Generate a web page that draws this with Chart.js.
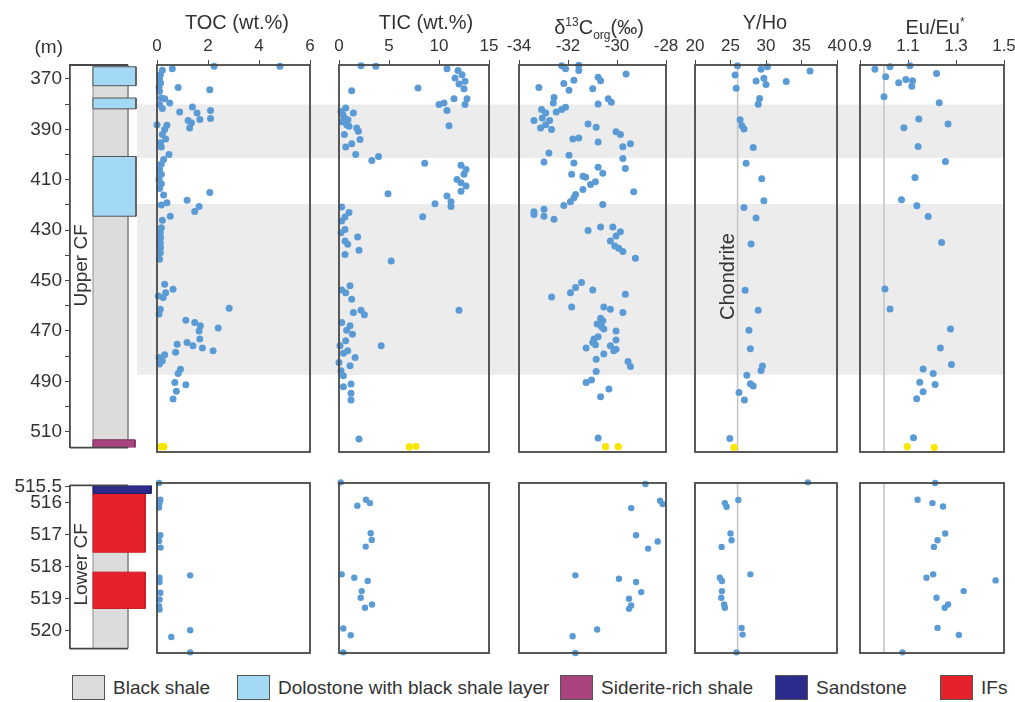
<!DOCTYPE html>
<html>
<head>
<meta charset="utf-8">
<script src="https://cdn.jsdelivr.net/npm/chart.js@4.4.0/dist/chart.umd.min.js"></script>
<style>
  body { margin: 0; background: #fff; }
  #fig { position: relative; width: 1015px; height: 702px; overflow: hidden; font-family: "Liberation Sans", Arial, sans-serif; color: #333; }
  #fig canvas { position: absolute; }
  .title { position: absolute; top: 10px; font-size: 20px; line-height: 24px; white-space: nowrap; transform: translateX(-50%); }
  .title sup, .title sub { font-size: 12px; }
  .unit { position: absolute; right: 952px; top: 36px; font-size: 19px; line-height: 22px; }
  .leg { position: absolute; top: 675px; height: 25px; display: flex; align-items: center; font-size: 19px; white-space: nowrap; }
  .leg span { display: inline-block; width: 31px; height: 23px; border: 1.5px solid #555; margin-right: 8px; }
</style>
</head>
<body>
<div id="fig"></div>
<script>
// depth axes
const upperRange = [364.5, 516.3];
const lowerRange = [515.47, 520.55];
const upperDepthTicks = [370, 380, 390, 400, 410, 420, 430, 440, 450, 460, 470, 480, 490, 500, 510];
const upperDepthLabels = ['370', '', '390', '', '410', '', '430', '', '450', '', '470', '', '490', '', '510'];
const lowerDepthTicks = [515.5, 516, 517, 518, 519, 520];
const lowerDepthLabels = ['515.5', '516', '517', '518', '519', '520'];

// grey shaded intervals
const shadeTop = [380, 419];
const shadeBase = [401, 486];

// lithology column [top, base, rock]
const lithUpper = [[364.5, 516.3, 'shale'], [365.2, 372.7, 'dolo'], [377.6, 381.9, 'dolo'], [400.8, 424.5, 'dolo'], [513.2, 516.3, 'siderite']];
const lithLower = [[515.47, 520.55, 'shale'], [515.47, 515.72, 'sand'], [515.72, 517.55, 'IF'], [518.17, 519.3, 'IF']];
const lithNames = ['Black shale', 'Dolostone with black shale layer', 'Siderite-rich shale', 'Sandstone', 'IFs'];
const lithKeys = ['shale', 'dolo', 'siderite', 'sand', 'IF'];

// x axis ticks
const tocTicks = [0, 2, 4, 6];
const ticTicks = [0, 5, 10, 15];
const d13cTicks = [-34, -32, -30, -28];
const yhoTicks = [20, 25, 30, 35, 40];
const euTicks = [0.9, 1.1, 1.3, 1.5];
const euTickLabels = ['0.9', '1.1', '1.3', '1.5'];

// chondrite reference values
const chondriteYHo = 26;
const chondriteEu = 1.0;

// samples as [value, depth (m)]
const tocUpper = [[2.24,365],[4.82,365],[0.6,366],[0.21,366.6],[0.13,368.3],[0.1,369.9],[0.14,371.6],[0.08,373.3],[0.83,373.3],[2.07,374.2],[0.1,374.8],[0.17,377.4],[0.3,377.7],[0.5,379.4],[0.1,380],[0.21,381.6],[1.39,381],[0.89,382.9],[1.57,383.3],[2.1,382.3],[2.1,385.5],[1.68,385.9],[1.22,386.3],[1.35,387.2],[1.28,389.2],[0,387.9],[0.39,388.1],[0.3,389.8],[0.21,391.8],[0.34,393.5],[0.14,395],[0.17,396.7],[0.47,399.6],[0.26,401.6],[0.17,403.3],[0.1,405.5],[0.17,407.4],[0.08,409.4],[0.17,411.1],[0.1,412.9],[0.26,415.5],[2.07,414.5],[1.18,417.6],[0.17,419.4],[0.39,418.5],[1.65,420],[1.48,422],[0.52,423.8],[0.21,425.4],[0.17,428.3],[0.13,430.3],[0.14,432.2],[0.13,434.2],[0.14,436.1],[0.13,438.1],[0.1,440.7],[0.3,450.5],[0.63,452.5],[0.34,453.8],[0.05,455.1],[0.24,455.7],[2.83,459.9],[0.13,460.3],[0.08,462.2],[1.13,464.6],[1.48,465.5],[1.7,466.8],[1.65,468.8],[2.4,467.7],[1.68,472],[1.18,473.3],[1.41,474.6],[1.78,475.5],[2.2,476.6],[0.79,474],[0.73,477.2],[0.3,478.2],[0.08,479.2],[0.21,480.5],[0.1,481.8],[0.92,483.8],[0.83,485.5],[0.7,489],[1.13,489.9],[0.76,492.5],[0.63,495.5]];
const tocLower = [[0.08,515.47],[0.13,515.97],[0.1,516.07],[0.08,516.2],[0.13,517.03],[0.08,517.2],[0.14,517.4],[1.3,518.23],[0.1,518.3],[0.1,518.43],[0.13,518.75],[0.1,518.95],[0.08,519.15],[0.1,519.25],[1.3,519.87],[0.56,520.07],[1.3,520.53]];
const tocYellow = [[0.15,514.2],[0.27,514.2]];

const ticUpper = [[2.2,364.8],[3.68,365],[10.8,366],[11.9,366.7],[12.3,368.3],[11.6,369.6],[12.6,370.9],[12,372],[12.5,373.8],[1.27,374.6],[7.9,373.5],[12.8,377.7],[11.5,377.7],[10,380],[10.5,379.4],[12.6,380],[10.8,382.3],[11,388.3],[0.2,382.7],[0.67,381.4],[1.44,383.3],[0.54,385.3],[0.4,384],[0.9,386],[0.3,386.8],[1.0,388.5],[0.77,387.9],[1.77,389.2],[1.94,390.5],[0.54,391.8],[2.1,393.7],[1.27,395.4],[0.67,396.7],[1.67,399.6],[3.28,402],[3.95,400.4],[8.57,403],[12.2,403.8],[12.7,405.5],[12.5,407.4],[11.8,409.4],[12.2,410.7],[12.7,412],[12.2,414],[4.9,415],[10.8,415.9],[11.2,418.1],[11.2,420],[9.6,418.9],[8.37,424],[0.27,420.2],[1,422.4],[0.6,424.1],[0.27,425.7],[0.6,429],[0.2,430.3],[1.87,432],[0.6,433.5],[0.87,434.8],[2,437.2],[0.6,438.8],[5.22,441.4],[1.1,451.1],[0.27,452.8],[0.67,453.8],[1.27,456.4],[1.44,461.6],[2.2,460.7],[2.54,462.5],[12,460.7],[0.27,465.5],[1.1,466.8],[0.77,468.5],[1.34,470.1],[0.67,472.7],[4.22,474.6],[0.1,474.6],[0.87,476.6],[0.44,477.6],[1.61,479.2],[0,481.2],[1.1,482.5],[0.2,484.4],[0.44,486.4],[1.2,489.6],[0.44,490.7],[1.2,493.3],[1.2,495.9],[2,511.2]];
const ticLower = [[0.17,515.45],[1.83,516.15],[2.7,515.97],[3.1,516.07],[3.17,516.97],[3.27,517.17],[2.67,517.37],[0.27,518.2],[1.53,518.3],[2.87,518.4],[2.27,518.7],[2.17,518.9],[3.3,519.1],[2.6,519.2],[0.43,519.82],[1.17,520.02],[0.43,520.53]];
const ticYellow = [[7.03,514.3],[7.7,514.1]];

const d13cUpper = [[-32.26,364.8],[-32.1,366],[-31.56,364.6],[-31.56,366.7],[-29.63,368],[-30.77,369.3],[-30.67,370.7],[-33.19,373.3],[-32.17,371.8],[-31.76,370.5],[-31.96,374.4],[-30.99,373.8],[-32.57,377.2],[-32.6,379.4],[-32.1,381.1],[-32.26,382],[-32.48,382.9],[-33.08,382],[-32.91,383.3],[-33.39,386.3],[-33.05,385.3],[-32.75,386.3],[-32.91,387.9],[-33.12,389.2],[-32.67,389.8],[-30.77,379.8],[-30.36,377.7],[-30.23,379.1],[-31.18,387.6],[-30.85,388.9],[-30.04,390.7],[-29.86,391.8],[-31.8,393.5],[-31.56,393.1],[-30.77,394.7],[-29.45,395.4],[-29.76,396.6],[-32.78,399],[-31.96,399.9],[-29.76,401.2],[-32.98,402.5],[-31.76,402.9],[-29.66,405.1],[-30.77,404.6],[-30.58,407],[-31.85,407.4],[-31.39,408.1],[-31.28,408.5],[-30.88,410.3],[-31.08,411.4],[-31.39,413.3],[-29.32,414.2],[-31.69,415.3],[-31.76,416.6],[-31.9,418.1],[-32.17,419.6],[-30.58,419.2],[-32.98,421.1],[-33.39,422.1],[-33.39,423.1],[-32.98,423.8],[-32.57,425],[-31.18,429.4],[-30.67,428],[-30.17,428],[-29.86,429.9],[-30.04,431.6],[-30.27,433.5],[-30.09,435.5],[-29.93,436.4],[-29.76,437.7],[-29.25,440.3],[-31.45,449.8],[-31.69,451.8],[-31.9,453.8],[-32.67,455.5],[-30.99,452.8],[-29.66,454.4],[-31.85,459.4],[-30.54,459.4],[-30.27,460.3],[-29.76,461.6],[-30.67,463.8],[-30.58,464.8],[-30.81,466.1],[-30.63,467.2],[-30.54,468.1],[-30.04,468.8],[-30.77,471.1],[-30.94,472],[-30.99,473.3],[-30.88,474.2],[-30.04,472.4],[-30.27,474.6],[-31.26,475.5],[-30.13,476.6],[-30.04,476],[-30.54,477.9],[-30.85,479.9],[-29.55,480.8],[-29.45,482.8],[-30.85,484.7],[-31.04,488.1],[-31.26,489],[-30.33,491.6],[-30.67,494.6],[-30.77,510.8]];
const d13cLower = [[-28.84,515.5],[-29.42,516.22],[-28.24,516],[-28.14,516.1],[-29.22,517.03],[-28.34,517.22],[-28.73,517.43],[-31.7,518.23],[-29.92,518.33],[-29.22,518.43],[-29.01,518.73],[-29.51,518.93],[-29.42,519.13],[-29.51,519.23],[-30.81,519.85],[-31.81,520.05],[-31.7,520.55]];
const d13cYellow = [[-30.47,514.2],[-29.95,514.2]];

const yhoUpper = [[25.98,364.8],[25.65,368.4],[25.8,373.6],[29.3,366.2],[30.2,365.2],[29.7,369.7],[28.6,370.8],[30,372.1],[32.85,371],[36.2,366.9],[29.1,377.6],[28.9,379.9],[26.35,386],[26.6,388.3],[26.9,389.6],[28.2,396.9],[27.2,403],[29.4,409.1],[29.7,417.7],[26.9,420.4],[28.6,424.5],[27.9,434.7],[27.06,452.9],[28.9,460.7],[27.6,468.5],[27.8,475.8],[29.5,482.6],[29.3,484.3],[27.3,486.2],[27.8,489.5],[28.2,490.4],[26.2,493],[26.96,495.9],[24.9,511]];
const yhoLower = [[35.9,515.45],[26.1,515.98],[24.2,516.07],[24.45,516.18],[25,516.98],[25.15,517.18],[23.75,517.38],[27.8,518.2],[23.5,518.3],[23.8,518.4],[23.8,518.7],[23.7,518.9],[24.1,519.1],[24.2,519.2],[26.56,519.8],[26.7,520],[25.85,520.53]];
const yhoYellow = [[25.5,514.5]];

const euUpper = [[0.962,366.2],[1.025,365.2],[1.108,364.8],[1.007,369.1],[1.061,371.5],[1.091,370.2],[1.119,370.7],[1.116,372.8],[1.219,367.8],[1.0,377],[1.23,379.3],[1.145,385.7],[1.267,387.6],[1.083,389.1],[1.142,396.5],[1.256,402.4],[1.129,408.6],[1.073,417.4],[1.137,419.7],[1.184,423.9],[1.24,434.1],[1.004,452.4],[1.025,460.2],[1.277,468.1],[1.235,475.5],[1.281,482],[1.163,483.7],[1.205,485.5],[1.149,488.9],[1.213,489.8],[1.163,492.7],[1.136,495.4],[1.123,510.7]];
const euLower = [[1.213,515.47],[1.14,515.97],[1.202,516.07],[1.246,516.17],[1.255,516.98],[1.223,517.18],[1.208,517.38],[1.205,518.2],[1.177,518.3],[1.465,518.38],[1.332,518.7],[1.219,518.9],[1.267,519.1],[1.253,519.2],[1.223,519.8],[1.312,520.01],[1.077,520.53]];
const euYellow = [[1.097,514.2],[1.209,514.5]];

// ---- styles / layout ----
const FONT = '"Liberation Sans", Arial, sans-serif';
const BLUE = '#5b9bd5';
const YELLOW = '#f7e600';
const FRAME = '#484848';
const lithFill = {shale: '#dcdcdc', dolo: '#a3d9f5', siderite: '#a9447f', sand: '#2b2b8c', IF: '#e5222b'};
const lithEdge = {shale: '#8e8e8e', dolo: '#555555', siderite: '#7a2d5a', sand: '#1e1e66', IF: '#c81a22'};
const lithWidth = {shale: 1, dolo: 1.23, siderite: 1.2, sand: 1.66, IF: 1.49};
const UP = {top: 65, bottom: 452, min: upperRange[0], max: upperRange[1]};
const LO = {top: 483, bottom: 653, min: lowerRange[0], max: lowerRange[1]};

const fig = document.getElementById('fig');
function addCanvas(left, top, w, h) {
  const c = document.createElement('canvas');
  c.width = w; c.height = h;
  c.style.left = left + 'px'; c.style.top = top + 'px';
  c.style.width = w + 'px'; c.style.height = h + 'px';
  fig.appendChild(c);
  return c;
}
const pts = arr => arr.map(([x, y]) => ({x, y}));
const rect = (x0, x1, y0, y1) => [{x: x0, y: y0}, {x: x1, y: y0}, {x: x1, y: y1}, {x: x0, y: y1}, {x: x0, y: y0}];

const framePlugin = {
  id: 'frame',
  afterDatasetsDraw(chart) {
    const {ctx, chartArea: a} = chart;
    ctx.save();
    ctx.strokeStyle = FRAME; ctx.lineWidth = 1.8;
    ctx.strokeRect(a.left, a.top, a.right - a.left, a.bottom - a.top);
    ctx.restore();
  }
};
const rotatedText = (text, xFn, depth, size) => ({
  id: 'rot' + text.replace(/\W/g, ''),
  afterDatasetsDraw(chart) {
    const {ctx} = chart;
    ctx.save();
    ctx.translate(xFn(chart), chart.scales.y.getPixelForValue(depth));
    ctx.rotate(-Math.PI / 2);
    ctx.font = size + 'px ' + FONT;
    ctx.fillStyle = '#333'; ctx.textAlign = 'center'; ctx.textBaseline = 'middle';
    ctx.fillText(text, 0, 0);
    ctx.restore();
  }
});

// shaded bands behind the panels
(function () {
  const c = addCanvas(137, 0, 868, UP.bottom + 10);
  new Chart(c, {
    type: 'line',
    data: {datasets: shadeTop.map((t, i) => ({data: rect(0, 1, t, shadeBase[i]), fill: 'shape', backgroundColor: '#ececec', borderWidth: 0, pointRadius: 0}))},
    options: {
      responsive: false, animation: false, events: [],
      layout: {autoPadding: false, padding: {left: 0, right: 0, top: UP.top, bottom: 10}},
      plugins: {legend: {display: false}, tooltip: {enabled: false}},
      scales: {x: {type: 'linear', min: 0, max: 1, display: false}, y: {type: 'linear', reverse: true, min: UP.min, max: UP.max, display: false}}
    }
  });
})();

// lithology column with depth axis
function lithoChart(part, units, ticks, labels, cfText, cfDepth) {
  const top = part === UP ? 0 : part.top - 12;
  const c = addCanvas(0, top, 165, part.bottom + 10 - top);
  const ds = units.map(([t, b, k]) => ({
    data: rect(0, lithWidth[k], t, b), fill: 'shape', backgroundColor: lithFill[k],
    borderColor: lithEdge[k], borderWidth: 1, pointRadius: 0, order: k === 'shale' ? 2 : 1
  }));
  const edgeLines = {
    id: 'edges',
    afterDatasetsDraw(chart) {
      const {ctx, chartArea: a, scales} = chart;
      const xr = scales.x.getPixelForValue(lithWidth.shale);
      ctx.save(); ctx.strokeStyle = FRAME; ctx.lineWidth = 1.8;
      ctx.beginPath();
      ctx.moveTo(a.left, a.top); ctx.lineTo(xr, a.top);
      ctx.moveTo(a.left, a.bottom); ctx.lineTo(xr, a.bottom);
      ctx.stroke(); ctx.restore();
    }
  };
  new Chart(c, {
    type: 'line',
    data: {datasets: ds},
    options: {
      responsive: false, animation: false, events: [],
      layout: {autoPadding: false, padding: {left: 0, right: 13, top: part === UP ? part.top : 12, bottom: 10}},
      plugins: {legend: {display: false}, tooltip: {enabled: false}},
      scales: {
        x: {type: 'linear', min: -0.657, max: 1.686, display: false},
        y: {
          type: 'linear', reverse: true, min: part.min, max: part.max, position: 'left',
          afterFit: s => { s.width = 70; },
          afterBuildTicks: s => { s.ticks = ticks.map(v => ({value: v})); },
          ticks: {callback: (v, i) => labels[i], font: {size: 19, family: FONT}, color: '#333', padding: 3, autoSkip: false},
          grid: {drawOnChartArea: false, tickLength: 5, color: FRAME},
          border: {display: true, color: FRAME, width: 1.8}
        }
      }
    },
    plugins: [edgeLines, rotatedText(cfText, ch => ch.chartArea.left + 12, cfDepth, 19)]
  });
}
lithoChart(UP, lithUpper, upperDepthTicks, upperDepthLabels, 'Upper CF', 444);
lithoChart(LO, lithLower, lowerDepthTicks, lowerDepthLabels, 'Lower CF', 517.93);

// geochemistry panels
const panels = [
  {left: 157, right: 310, min: 0, max: 6, ticks: tocTicks, upper: tocUpper, lower: tocLower, yellow: tocYellow, title: 'TOC (wt.%)', tx: 237},
  {left: 339, right: 489, min: 0, max: 15, ticks: ticTicks, upper: ticUpper, lower: ticLower, yellow: ticYellow, title: 'TIC (wt.%)', tx: 426},
  {left: 519, right: 666, min: -34, max: -28, ticks: d13cTicks, upper: d13cUpper, lower: d13cLower, yellow: d13cYellow, title: 'δ<sup>13</sup>C<sub>org</sub>(‰)', tx: 599},
  {left: 695, right: 837, min: 20, max: 40, ticks: yhoTicks, upper: yhoUpper, lower: yhoLower, yellow: yhoYellow, title: 'Y/Ho', tx: 765, ref: chondriteYHo, note: 'Chondrite'},
  {left: 860, right: 1004, min: 0.9, max: 1.5, ticks: euTicks, labels: euTickLabels, upper: euUpper, lower: euLower, yellow: euYellow, title: 'Eu/Eu<sup>*</sup>', tx: 935, ref: chondriteEu}
];

function scatterPanel(p, part) {
  const isUp = part === UP;
  const pad = 16;
  const top = isUp ? 0 : part.top - 10;
  const c = addCanvas(p.left - pad, top, p.right - p.left + 2 * pad, part.bottom + 10 - top);
  const ds = [{data: pts(isUp ? p.upper : p.lower), backgroundColor: BLUE, pointRadius: isUp ? 3.5 : 3.2, borderWidth: 0, order: 1}];
  if (isUp) ds.push({data: pts(p.yellow), backgroundColor: YELLOW, pointRadius: 3.6, borderWidth: 0, order: 1});
  if (p.ref !== undefined) ds.push({showLine: true, data: [{x: p.ref, y: part.min}, {x: p.ref, y: part.max}], borderColor: '#c4c4c4', borderWidth: 1.5, pointRadius: 0, order: 3});
  const plugins = [framePlugin];
  if (isUp && p.note) plugins.push(rotatedText(p.note, ch => ch.scales.x.getPixelForValue(p.ref) - 9, 447.5, 20));
  const xScale = {
    type: 'linear', position: 'top', min: p.min, max: p.max, display: isUp,
    afterBuildTicks: s => { s.ticks = p.ticks.map(v => ({value: v})); },
    ticks: {callback: (v, i) => p.labels ? p.labels[i] : String(p.ticks[i]), font: {size: 17, family: FONT}, color: '#333', padding: 3, maxRotation: 0, autoSkip: false},
    grid: {drawOnChartArea: false, tickLength: 5, color: FRAME},
    border: {display: false}
  };
  if (isUp) xScale.afterFit = s => { s.height = part.top; };
  new Chart(c, {
    type: 'scatter',
    data: {datasets: ds.map(d => Object.assign({clip: false}, d))},
    options: {
      responsive: false, animation: false, events: [],
      layout: {autoPadding: false, padding: {left: pad, right: pad, top: isUp ? 0 : 10, bottom: 10}},
      plugins: {legend: {display: false}, tooltip: {enabled: false}},
      scales: {
        x: xScale,
        y: {type: 'linear', reverse: true, min: part.min, max: part.max, display: false}
      }
    },
    plugins
  });
}
panels.forEach(p => {
  scatterPanel(p, UP);
  scatterPanel(p, LO);
  const t = document.createElement('div');
  t.className = 'title'; t.style.left = p.tx + 'px'; t.innerHTML = p.title;
  fig.appendChild(t);
});

const unit = document.createElement('div');
unit.className = 'unit'; unit.textContent = '(m)';
fig.appendChild(unit);

// legend
const legLeft = [72, 237, 560, 775, 940];
lithKeys.forEach((k, i) => {
  const d = document.createElement('div');
  d.className = 'leg'; d.style.left = legLeft[i] + 'px';
  d.innerHTML = `<span style="background:${lithFill[k]}"></span>${lithNames[i]}`;
  fig.appendChild(d);
});
</script>
</body>
</html>
